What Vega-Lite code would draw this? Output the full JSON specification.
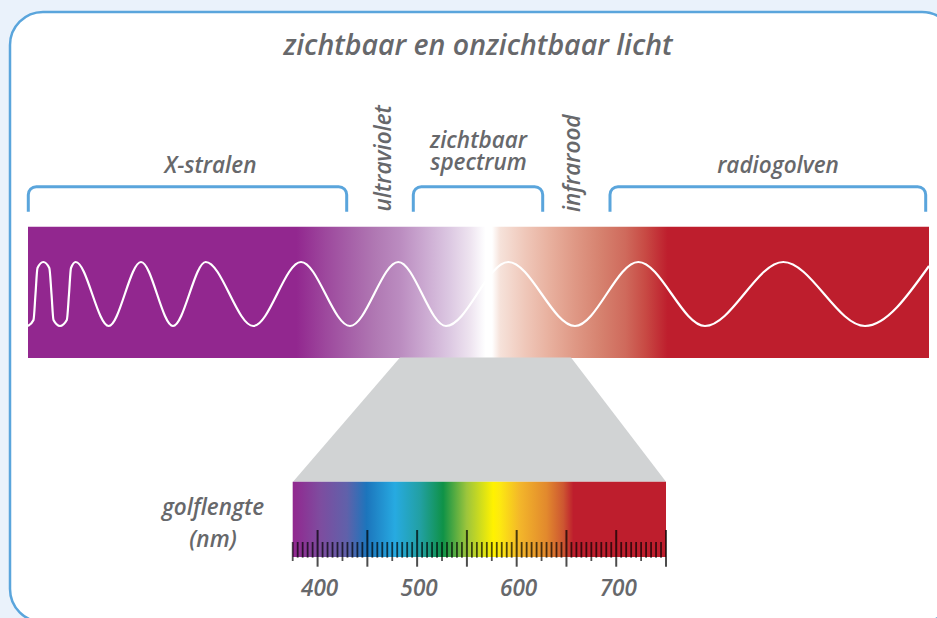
{
  "$schema": "https://vega.github.io/schema/vega-lite/v6.json",
  "width": 937,
  "height": 618,
  "autosize": {"type": "none"},
  "padding": 0,
  "background": "#eaf2fb",
  "config": {"view": {"stroke": null}, "text": {"font": "Open Sans", "fontStyle": "italic", "fontWeight": 600, "color": "#67686b"}},
  "datasets": {
    "ticks": [
      {"nm":375,"kind":"mid"},{"nm":380,"kind":"minor"},{"nm":385,"kind":"minor"},{"nm":390,"kind":"minor"},{"nm":395,"kind":"minor"},
      {"nm":400,"kind":"major"},{"nm":405,"kind":"minor"},{"nm":410,"kind":"minor"},{"nm":415,"kind":"minor"},{"nm":420,"kind":"minor"},
      {"nm":425,"kind":"mid"},{"nm":430,"kind":"minor"},{"nm":435,"kind":"minor"},{"nm":440,"kind":"minor"},{"nm":445,"kind":"minor"},
      {"nm":450,"kind":"major"},{"nm":455,"kind":"minor"},{"nm":460,"kind":"minor"},{"nm":465,"kind":"minor"},{"nm":470,"kind":"minor"},
      {"nm":475,"kind":"mid"},{"nm":480,"kind":"minor"},{"nm":485,"kind":"minor"},{"nm":490,"kind":"minor"},{"nm":495,"kind":"minor"},
      {"nm":500,"kind":"major"},{"nm":505,"kind":"minor"},{"nm":510,"kind":"minor"},{"nm":515,"kind":"minor"},{"nm":520,"kind":"minor"},
      {"nm":525,"kind":"mid"},{"nm":530,"kind":"minor"},{"nm":535,"kind":"minor"},{"nm":540,"kind":"minor"},{"nm":545,"kind":"minor"},
      {"nm":550,"kind":"major"},{"nm":555,"kind":"minor"},{"nm":560,"kind":"minor"},{"nm":565,"kind":"minor"},{"nm":570,"kind":"minor"},
      {"nm":575,"kind":"mid"},{"nm":580,"kind":"minor"},{"nm":585,"kind":"minor"},{"nm":590,"kind":"minor"},{"nm":595,"kind":"minor"},
      {"nm":600,"kind":"major"},{"nm":605,"kind":"minor"},{"nm":610,"kind":"minor"},{"nm":615,"kind":"minor"},{"nm":620,"kind":"minor"},
      {"nm":625,"kind":"mid"},{"nm":630,"kind":"minor"},{"nm":635,"kind":"minor"},{"nm":640,"kind":"minor"},{"nm":645,"kind":"minor"},
      {"nm":650,"kind":"major"},{"nm":655,"kind":"minor"},{"nm":660,"kind":"minor"},{"nm":665,"kind":"minor"},{"nm":670,"kind":"minor"},
      {"nm":675,"kind":"mid"},{"nm":680,"kind":"minor"},{"nm":685,"kind":"minor"},{"nm":690,"kind":"minor"},{"nm":695,"kind":"minor"},
      {"nm":700,"kind":"major"},{"nm":705,"kind":"minor"},{"nm":710,"kind":"minor"},{"nm":715,"kind":"minor"},{"nm":720,"kind":"minor"},
      {"nm":725,"kind":"mid"},{"nm":730,"kind":"minor"},{"nm":735,"kind":"minor"},{"nm":740,"kind":"minor"},{"nm":745,"kind":"minor"},
      {"nm":750,"kind":"major"}
    ]
  },
  "resolve": {"scale": {"x": "independent"}},
  "layer": [
    {
      "layer": [
        {
          "data": {"values": [{"x": 10, "x2": 955, "y": 12, "y2": 622}]},
          "mark": {"type": "rect", "fill": "#ffffff", "stroke": "#5aa5dc", "strokeWidth": 2.5, "cornerRadius": 33},
          "encoding": {
            "x": {"field": "x", "type": "quantitative", "scale": {"domain": [0, 937], "nice": false, "zero": false}, "axis": null},
            "x2": {"field": "x2"},
            "y": {"field": "y", "type": "quantitative", "scale": {"domain": [0, 618], "nice": false, "zero": false, "reverse": true}, "axis": null},
            "y2": {"field": "y2"}
          }
        },
        {
          "data": {"values": [
            {"group": "X-stralen", "from": 28.3, "to": 346.7},
            {"group": "zichtbaar spectrum", "from": 413.3, "to": 542.7},
            {"group": "radiogolven", "from": 610, "to": 925.7}
          ]},
          "mark": {"type": "rect", "fill": "#ffffff", "fillOpacity": 0, "stroke": "#5aa5dc", "strokeWidth": 3, "cornerRadius": 8},
          "encoding": {
            "x": {"field": "from", "type": "quantitative", "scale": {"domain": [0, 937], "nice": false, "zero": false}, "axis": null},
            "x2": {"field": "to"},
            "y": {"datum": 186.7, "type": "quantitative", "scale": {"domain": [0, 618], "nice": false, "zero": false, "reverse": true}, "axis": null},
            "y2": {"datum": 221}
          }
        },
        {
          "data": {"values": [{}]},
          "mark": {"type": "rect", "fill": "#ffffff"},
          "encoding": {
            "x": {"datum": 20, "type": "quantitative", "scale": {"domain": [0, 937], "nice": false, "zero": false}, "axis": null},
            "x2": {"datum": 935},
            "y": {"datum": 211.7, "type": "quantitative", "axis": null},
            "y2": {"datum": 226.7}
          }
        },
        {
          "data": {"values": [{"from": 28, "to": 929}]},
          "mark": {"type": "rect", "fill": {"gradient": "linear", "x1": 0, "y1": 0, "x2": 1, "y2": 0, "stops": [
            {"offset": 0, "color": "#92278f"},
            {"offset": 0.298, "color": "#92278f"},
            {"offset": 0.33, "color": "#9d489d"},
            {"offset": 0.357, "color": "#a660a8"},
            {"offset": 0.385, "color": "#b078b3"},
            {"offset": 0.413, "color": "#bb8cc0"},
            {"offset": 0.44, "color": "#cba9d1"},
            {"offset": 0.468, "color": "#dcc8e2"},
            {"offset": 0.491, "color": "#eee4f0"},
            {"offset": 0.504, "color": "#fbf9fc"},
            {"offset": 0.508, "color": "#ffffff"},
            {"offset": 0.515, "color": "#ffffff"},
            {"offset": 0.524, "color": "#f6e2da"},
            {"offset": 0.552, "color": "#efc7b9"},
            {"offset": 0.579, "color": "#e8b09e"},
            {"offset": 0.607, "color": "#df9885"},
            {"offset": 0.635, "color": "#d6826f"},
            {"offset": 0.663, "color": "#cf6a5c"},
            {"offset": 0.685, "color": "#c84a44"},
            {"offset": 0.71, "color": "#be1e2d"},
            {"offset": 1, "color": "#be1e2d"}
          ]}},
          "encoding": {
            "x": {"field": "from", "type": "quantitative", "scale": {"domain": [0, 937], "nice": false, "zero": false}, "axis": null},
            "x2": {"field": "to"},
            "y": {"datum": 226.7, "type": "quantitative", "axis": null},
            "y2": {"datum": 358}
          }
        },
        {
          "data": {"values": [
            {"x": 28, "y": 326}, {"x": 33.5, "y": 320}, {"x": 35.5, "y": 294}, {"x": 37.5, "y": 268}, {"x": 43.3, "y": 262},
            {"x": 49.3, "y": 268}, {"x": 51.5, "y": 294}, {"x": 53.5, "y": 320}, {"x": 60, "y": 326},
            {"x": 66.8, "y": 320}, {"x": 69, "y": 294}, {"x": 71, "y": 268}, {"x": 75.7, "y": 262},
            {"x": 108.7, "y": 326}, {"x": 141, "y": 262}, {"x": 173, "y": 326},
            {"x": 205.7, "y": 262}, {"x": 253.3, "y": 326}, {"x": 301, "y": 262}, {"x": 350, "y": 326}, {"x": 398.3, "y": 262},
            {"x": 446, "y": 326}, {"x": 508.3, "y": 262}, {"x": 575, "y": 326}, {"x": 638.3, "y": 262}, {"x": 705, "y": 326},
            {"x": 783.3, "y": 262}, {"x": 865, "y": 326}, {"x": 929, "y": 266}
          ]},
          "mark": {"type": "line", "color": "#ffffff", "strokeWidth": 2.2, "interpolate": "monotone"},
          "encoding": {
            "x": {"field": "x", "type": "quantitative", "scale": {"domain": [0, 937], "nice": false, "zero": false}, "axis": null},
            "y": {"field": "y", "type": "quantitative", "axis": null}
          }
        },
        {
          "data": {"values": [{"y": 357.5, "left": 400, "right": 571}, {"y": 481.7, "left": 293, "right": 666}]},
          "mark": {"type": "area", "orient": "horizontal", "color": "#d1d3d4"},
          "encoding": {
            "y": {"field": "y", "type": "quantitative", "axis": null},
            "x": {"field": "left", "type": "quantitative", "scale": {"domain": [0, 937], "nice": false, "zero": false}, "axis": null},
            "x2": {"field": "right"}
          }
        },
        {
          "data": {"values": [{"text": "zichtbaar en onzichtbaar licht", "x": 478, "y": 55}]},
          "mark": {"type": "text", "fontSize": 28.5, "align": "center", "baseline": "alphabetic"},
          "encoding": {
            "x": {"field": "x", "type": "quantitative", "scale": {"domain": [0, 937], "nice": false, "zero": false}, "axis": null},
            "y": {"field": "y", "type": "quantitative", "axis": null},
            "text": {"field": "text"}
          }
        },
        {
          "data": {"values": [
            {"text": "X-stralen", "x": 210.5, "y": 173},
            {"text": "radiogolven", "x": 778, "y": 173},
            {"text": "golflengte", "x": 213, "y": 515},
            {"text": "(nm)", "x": 213, "y": 547}
          ]},
          "mark": {"type": "text", "fontSize": 22.5, "align": "center", "baseline": "alphabetic"},
          "encoding": {
            "x": {"field": "x", "type": "quantitative", "scale": {"domain": [0, 937], "nice": false, "zero": false}, "axis": null},
            "y": {"field": "y", "type": "quantitative", "axis": null},
            "text": {"field": "text"}
          }
        },
        {
          "data": {"values": [
            {"text": "zichtbaar\nspectrum", "x": 478.5, "y": 148}
          ]},
          "mark": {"type": "text", "fontSize": 22.5, "align": "center", "baseline": "alphabetic", "lineBreak": "\n", "lineHeight": 22},
          "encoding": {
            "x": {"field": "x", "type": "quantitative", "scale": {"domain": [0, 937], "nice": false, "zero": false}, "axis": null},
            "y": {"field": "y", "type": "quantitative", "axis": null},
            "text": {"field": "text"}
          }
        },
        {
          "data": {"values": [
            {"text": "ultraviolet", "x": 390.5, "y": 158.3},
            {"text": "infrarood", "x": 579.5, "y": 163.3}
          ]},
          "mark": {"type": "text", "fontSize": 22.5, "align": "center", "baseline": "alphabetic", "angle": 270},
          "encoding": {
            "x": {"field": "x", "type": "quantitative", "scale": {"domain": [0, 937], "nice": false, "zero": false}, "axis": null},
            "y": {"field": "y", "type": "quantitative", "axis": null},
            "text": {"field": "text"}
          }
        }
      ]
    },
    {
      "layer": [
        {
          "data": {"values": [{"from": 375, "to": 750}]},
          "mark": {"type": "rect", "fill": {"gradient": "linear", "x1": 0, "y1": 0, "x2": 1, "y2": 0, "stops": [
            {"offset": 0, "color": "#92278f"},
            {"offset": 0.073, "color": "#7e4c9f"},
            {"offset": 0.145, "color": "#6061aa"},
            {"offset": 0.198, "color": "#1c75bc"},
            {"offset": 0.274, "color": "#27aae1"},
            {"offset": 0.341, "color": "#22a0a3"},
            {"offset": 0.403, "color": "#0f9247"},
            {"offset": 0.466, "color": "#9cc53c"},
            {"offset": 0.537, "color": "#fff200"},
            {"offset": 0.555, "color": "#fde910"},
            {"offset": 0.609, "color": "#f3b62a"},
            {"offset": 0.68, "color": "#e2892d"},
            {"offset": 0.725, "color": "#cd5631"},
            {"offset": 0.752, "color": "#be1e2d"},
            {"offset": 1, "color": "#be1e2d"}
          ]}},
          "encoding": {
            "x": {"field": "from", "type": "quantitative", "scale": {"domain": [375, 750], "range": [292.7, 666], "nice": false, "zero": false}, "axis": null},
            "x2": {"field": "to"},
            "y": {"datum": 481.7, "type": "quantitative", "axis": null},
            "y2": {"datum": 557}
          }
        },
        {
          "data": {"name": "ticks"},
          "transform": [{"filter": "datum.kind == 'minor'"}],
          "mark": {"type": "rule", "color": "#000000", "opacity": 0.68, "strokeWidth": 1.8},
          "encoding": {
            "x": {"field": "nm", "type": "quantitative", "scale": {"domain": [375, 750], "range": [292.7, 666], "nice": false, "zero": false}, "axis": null},
            "y": {"datum": 542, "type": "quantitative", "axis": null},
            "y2": {"datum": 557.7}
          }
        },
        {
          "data": {"name": "ticks"},
          "transform": [{"filter": "datum.kind == 'mid'"}],
          "mark": {"type": "rule", "color": "#000000", "opacity": 0.68, "strokeWidth": 1.8},
          "encoding": {
            "x": {"field": "nm", "type": "quantitative", "scale": {"domain": [375, 750], "range": [292.7, 666], "nice": false, "zero": false}, "axis": null},
            "y": {"datum": 542, "type": "quantitative", "axis": null},
            "y2": {"datum": 561}
          }
        },
        {
          "data": {"name": "ticks"},
          "transform": [{"filter": "datum.kind == 'major'"}],
          "mark": {"type": "rule", "color": "#000000", "opacity": 0.7, "strokeWidth": 2},
          "encoding": {
            "x": {"field": "nm", "type": "quantitative", "scale": {"domain": [375, 750], "range": [292.7, 666], "nice": false, "zero": false}, "axis": null},
            "y": {"datum": 530, "type": "quantitative", "axis": null},
            "y2": {"datum": 566.7}
          }
        },
        {
          "data": {"values": [
            {"nm": 400, "label": "400"}, {"nm": 500, "label": "500"}, {"nm": 600, "label": "600"}, {"nm": 700, "label": "700"}
          ]},
          "mark": {"type": "text", "fontSize": 22.5, "align": "center", "baseline": "alphabetic", "dx": 2},
          "encoding": {
            "x": {"field": "nm", "type": "quantitative", "scale": {"domain": [375, 750], "range": [292.7, 666], "nice": false, "zero": false}, "axis": null},
            "y": {"datum": 595.5, "type": "quantitative", "axis": null},
            "text": {"field": "label"}
          }
        }
      ]
    }
  ]
}
